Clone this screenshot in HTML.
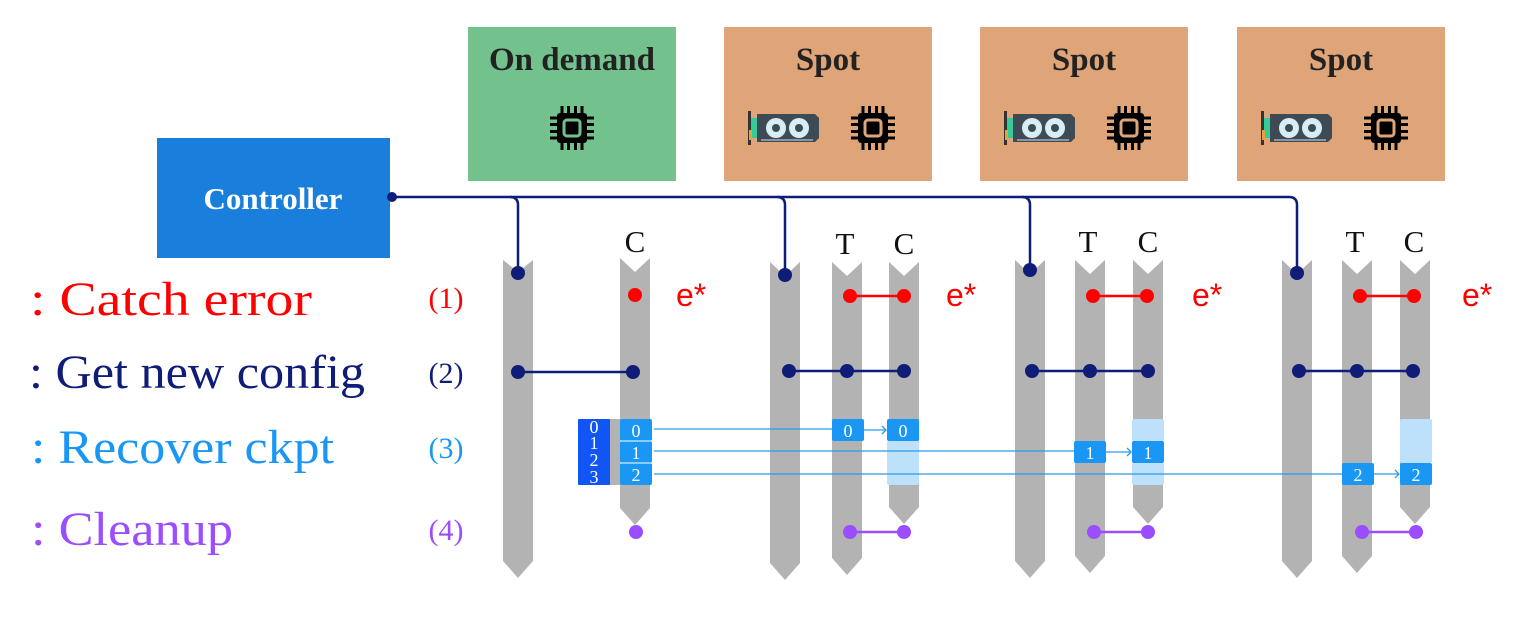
<!DOCTYPE html>
<html><head><meta charset="utf-8"><style>
html,body{margin:0;padding:0;background:#fff;width:1528px;height:643px;overflow:hidden}
</style></head><body>
<svg width="1528" height="643" viewBox="0 0 1528 643" xmlns="http://www.w3.org/2000/svg">
<defs>
<g id="chip">
  <g stroke="#000" stroke-width="3">
    <line x1="-10" y1="-22" x2="-10" y2="22"/><line x1="-3.5" y1="-22" x2="-3.5" y2="22"/>
    <line x1="3.5" y1="-22" x2="3.5" y2="22"/><line x1="10" y1="-22" x2="10" y2="22"/>
    <line x1="-22" y1="-10" x2="22" y2="-10"/><line x1="-22" y1="-3.5" x2="22" y2="-3.5"/>
    <line x1="-22" y1="3.5" x2="22" y2="3.5"/><line x1="-22" y1="10" x2="22" y2="10"/>
  </g>
  <rect x="-15" y="-15" width="30" height="30" rx="3" fill="#000"/>
  <rect x="-8" y="-8" width="16" height="16" rx="3" fill="none" stroke="currentColor" stroke-width="3"/>
</g>
<g id="gpu">
  <rect x="-37" y="-17" width="3" height="34" fill="#333"/>
  <rect x="-34" y="-10" width="6" height="20" fill="#3c9"/>
  <rect x="-36" y="2" width="3" height="10" fill="#e9a23b"/>
  <path d="M-28 -14 H30 L34 -10 V10 L30 14 H-28 Z" fill="#3f4a57"/>
  <circle cx="-9" cy="0" r="10" fill="#d6eef5"/><circle cx="14" cy="0" r="10" fill="#d6eef5"/>
  <circle cx="-9" cy="0" r="4" fill="#3f4a57"/><circle cx="14" cy="0" r="4" fill="#3f4a57"/>
  <path d="M-24 12 H28" stroke="#aab" stroke-width="1.5"/>
</g>
</defs>

<!-- top boxes -->
<rect x="468" y="27" width="208" height="154" fill="#73c28d"/>
<rect x="724" y="27" width="208" height="154" fill="#dfa478"/>
<rect x="980" y="27" width="208" height="154" fill="#dfa478"/>
<rect x="1237" y="27" width="208" height="154" fill="#dfa478"/>
<g font-family="Liberation Serif, serif" font-weight="bold" font-size="33" fill="#222" text-anchor="middle">
<text x="572" y="70">On demand</text>
<text x="828" y="70">Spot</text>
<text x="1084" y="70">Spot</text>
<text x="1341" y="70">Spot</text>
</g>
<use href="#chip" x="572" y="128" color="#73c28d"/>
<use href="#gpu" x="785" y="128"/><use href="#chip" x="873" y="128" color="#dfa478"/>
<use href="#gpu" x="1041" y="128"/><use href="#chip" x="1129" y="128" color="#dfa478"/>
<use href="#gpu" x="1298" y="128"/><use href="#chip" x="1386" y="128" color="#dfa478"/>

<!-- controller -->
<rect x="157" y="138" width="233" height="120" fill="#1a7fdc"/>
<text x="273" y="209" font-family="Liberation Serif, serif" font-weight="bold" font-size="31" fill="#fff" text-anchor="middle">Controller</text>
<g stroke="#0f1c78" stroke-width="2.5" fill="none">
<path d="M392 197 H1289 Q1297 197 1297 205 V273"/>
<path d="M510 197 Q518 197 518 205 V273"/>
<path d="M777 197 Q785 197 785 205 V273"/>
<path d="M1022 197 Q1030 197 1030 205 V273"/>
</g>
<circle cx="392" cy="197" r="5" fill="#0f1c78"/>

<!-- bars -->
<g fill="#b3b3b3">
<polygon points="503,260 518,272 533,260 533,561 518,578 503,561"/>
<polygon points="620,258 635,272 650,258 650,508 635,525 620,508"/>
<polygon points="770,262 785,276 800,262 800,563 785,580 770,563"/>
<polygon points="832,262 847,276 862,262 862,558 847,575 832,558"/>
<polygon points="889,262 904,276 919,262 919,507 904,524 889,507"/>
<polygon points="1015,260 1030,274 1045,260 1045,561 1030,578 1015,561"/>
<polygon points="1075,260 1090,274 1105,260 1105,556 1090,573 1075,556"/>
<polygon points="1133,260 1148,274 1163,260 1163,507 1148,524 1133,507"/>
<polygon points="1282,260 1297,274 1312,260 1312,561 1297,578 1282,561"/>
<polygon points="1342,260 1357,274 1372,260 1372,556 1357,573 1342,556"/>
<polygon points="1400,260 1415,274 1430,260 1430,507 1415,524 1400,507"/>
</g>

<!-- T/C labels -->
<g font-family="Liberation Serif, serif" font-size="31" fill="#111" text-anchor="middle">
<text x="635" y="252">C</text>
<text x="845" y="254">T</text><text x="904" y="254">C</text>
<text x="1088" y="252">T</text><text x="1148" y="252">C</text>
<text x="1355" y="252">T</text><text x="1414" y="252">C</text>
</g>

<!-- controller dots -->
<g fill="#0f1c78">
<circle cx="518" cy="273" r="7"/><circle cx="785" cy="275" r="7"/>
<circle cx="1030" cy="270" r="7"/><circle cx="1297" cy="273" r="7"/>
</g>

<!-- (1) red -->
<g stroke="#f00" stroke-width="2.5"><line x1="850" y1="296" x2="904" y2="296"/><line x1="1093" y1="296" x2="1147" y2="296"/><line x1="1360" y1="296" x2="1414" y2="296"/></g>
<g fill="#f00">
<circle cx="635" cy="295" r="7"/>
<circle cx="850" cy="296" r="7"/><circle cx="904" cy="296" r="7"/>
<circle cx="1093" cy="296" r="7"/><circle cx="1147" cy="296" r="7"/>
<circle cx="1360" cy="296" r="7"/><circle cx="1414" cy="296" r="7"/>
</g>
<g font-family="Liberation Sans, sans-serif" font-size="32" fill="#f00">
<text x="676" y="306">e*</text><text x="946" y="306">e*</text><text x="1192" y="306">e*</text><text x="1462" y="306">e*</text>
</g>

<!-- (2) navy -->
<g stroke="#0f1c78" stroke-width="2.5">
<line x1="518" y1="372" x2="633" y2="372"/>
<line x1="789" y1="371" x2="904" y2="371"/>
<line x1="1032" y1="371" x2="1148" y2="371"/>
<line x1="1299" y1="371" x2="1413" y2="371"/>
</g>
<g fill="#0f1c78">
<circle cx="518" cy="372" r="7"/><circle cx="633" cy="372" r="7"/>
<circle cx="789" cy="371" r="7"/><circle cx="847" cy="371" r="7"/><circle cx="904" cy="371" r="7"/>
<circle cx="1032" cy="371" r="7"/><circle cx="1090" cy="371" r="7"/><circle cx="1148" cy="371" r="7"/>
<circle cx="1299" cy="371" r="7"/><circle cx="1357" cy="371" r="7"/><circle cx="1413" cy="371" r="7"/>
</g>

<!-- (3) ckpt -->
<rect x="578" y="419" width="32" height="66" rx="1" fill="#1255f5"/>
<rect x="610" y="419" width="10" height="66" fill="#b3b3b3"/>
<g fill="#bde0fb">
<rect x="887" y="441" width="32" height="44" rx="2"/>
<rect x="1132" y="419" width="32" height="22" rx="2"/><rect x="1132" y="463" width="32" height="22" rx="2"/>
<rect x="1400" y="419" width="32" height="44" rx="2"/>
</g>
<g fill="#1a97f5">
<rect x="620" y="419" width="32" height="22" rx="2"/><rect x="620" y="441" width="32" height="22" rx="2"/><rect x="620" y="463" width="32" height="22" rx="2"/>
<rect x="832" y="419" width="32" height="22" rx="2"/><rect x="887" y="419" width="32" height="22" rx="2"/>
<rect x="1074" y="441" width="32" height="22" rx="2"/><rect x="1132" y="441" width="32" height="22" rx="2"/>
<rect x="1342" y="463" width="32" height="22" rx="2"/><rect x="1400" y="463" width="32" height="22" rx="2"/>
</g>
<line x1="620" y1="441" x2="652" y2="441" stroke="#fff" stroke-width="1"/>
<line x1="620" y1="463" x2="652" y2="463" stroke="#fff" stroke-width="1"/>
<g stroke="#2a9be8" stroke-width="1.3" fill="none">
<line x1="654" y1="429" x2="832" y2="429"/>
<line x1="654" y1="451" x2="1074" y2="451"/>
<line x1="654" y1="474" x2="1342" y2="474"/>
<line x1="864" y1="430" x2="886" y2="430"/><path d="M882 426 L886 430 L882 434"/>
<line x1="1106" y1="452" x2="1131" y2="452"/><path d="M1127 448 L1131 452 L1127 456"/>
<line x1="1374" y1="474" x2="1399" y2="474"/><path d="M1395 470 L1399 474 L1395 478"/>
</g>
<g font-family="Liberation Serif, serif" font-size="18" fill="#fff" text-anchor="middle">
<text x="636" y="437">0</text><text x="636" y="459">1</text><text x="636" y="481">2</text>
<text x="848" y="437">0</text><text x="903" y="437">0</text>
<text x="1090" y="459">1</text><text x="1148" y="459">1</text>
<text x="1358" y="481">2</text><text x="1416" y="481">2</text>
<text x="594" y="433">0</text><text x="594" y="449">1</text><text x="594" y="466">2</text><text x="594" y="483">3</text>
</g>

<!-- (4) purple -->
<g stroke="#9b4dff" stroke-width="2.5"><line x1="850" y1="532" x2="904" y2="532"/><line x1="1094" y1="532" x2="1148" y2="532"/><line x1="1362" y1="532" x2="1416" y2="532"/></g>
<g fill="#9b4dff">
<circle cx="636" cy="532" r="7"/>
<circle cx="850" cy="532" r="7"/><circle cx="904" cy="532" r="7"/>
<circle cx="1094" cy="532" r="7"/><circle cx="1148" cy="532" r="7"/>
<circle cx="1362" cy="532" r="7"/><circle cx="1416" cy="532" r="7"/>
</g>

<!-- legend -->
<g font-family="Liberation Serif, serif" font-size="48">
<text x="30" y="315" fill="#f00" textLength="282" lengthAdjust="spacingAndGlyphs">: Catch error</text>
<text x="29" y="388" fill="#0f1c78" textLength="336" lengthAdjust="spacingAndGlyphs">: Get new config</text>
<text x="31" y="463" fill="#1a97f5" textLength="303" lengthAdjust="spacingAndGlyphs">: Recover ckpt</text>
<text x="31" y="545" fill="#9b4dff" textLength="202" lengthAdjust="spacingAndGlyphs">: Cleanup</text>
</g>
<g font-family="Liberation Serif, serif" font-size="30" text-anchor="middle">
<text x="446" y="308" fill="#f00">(1)</text>
<text x="446" y="383" fill="#0f1c78">(2)</text>
<text x="446" y="458" fill="#1a97f5">(3)</text>
<text x="446" y="540" fill="#9b4dff">(4)</text>
</g>
</svg>
</body></html>
